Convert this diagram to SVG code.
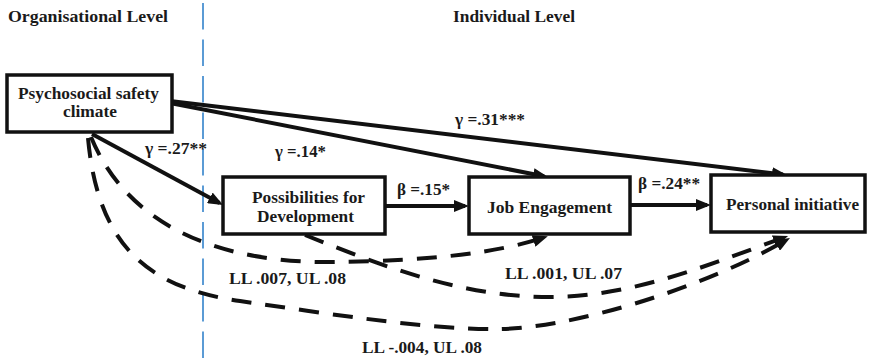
<svg xmlns="http://www.w3.org/2000/svg" width="870" height="358" viewBox="0 0 870 358">
  <defs>
    <style>
      text { font-family: 'Liberation Serif', 'Times New Roman', 'DejaVu Serif', serif; font-weight: 700; fill: #1a1a1a; }
      .node { font-size: 17px; }
      .lbl { font-size: 16px; }
      .hdr { font-size: 17px; }
      .box { fill: #fff; stroke: #111; stroke-width: 3.5; }
      .solid { fill: none; stroke: #111; stroke-width: 4; marker-end: url(#head); }
      .dash { fill: none; stroke: #111; stroke-width: 4; stroke-dasharray: 20 14; marker-end: url(#head); }
      .divider { stroke: #5b9bd5; stroke-width: 2; stroke-dasharray: 26.5 10; }
    </style>
    <marker id="head" markerUnits="userSpaceOnUse" viewBox="0 0 16 12" markerWidth="16" markerHeight="12" refX="11" refY="6" orient="auto">
      <path d="M0,0 L15,6 L0,12 z" fill="#111"/>
    </marker>
  </defs>

  <rect width="870" height="358" fill="#fff"/>

  <!-- level divider and headings -->
  <line class="divider" x1="203" y1="3" x2="203" y2="358"/>
  <text class="hdr" x="8" y="22" textLength="160" lengthAdjust="spacingAndGlyphs">Organisational Level</text>
  <text class="hdr" x="453" y="22" textLength="122" lengthAdjust="spacingAndGlyphs">Individual Level</text>

  <!-- paths between constructs -->
  <g id="connectors">
    <line class="solid" x1="92" y1="134" x2="219.5" y2="203.1"/>
    <line class="solid" x1="170" y1="103" x2="544.1" y2="176.2"/>
    <line class="solid" x1="170" y1="101" x2="783" y2="174.5"/>
    <line class="solid" x1="385" y1="206" x2="465" y2="206"/>
    <line class="solid" x1="630" y1="205" x2="707" y2="205"/>

    <path class="dash" d="M91,137 C130,232 230,263 330,262 C430,261 497,253 544,237.5"/>
    <path class="dash" d="M305,235 C380,265 460,297 550,297 C635,297 715,262 784.3,237.4"/>
    <path class="dash" d="M88,138 C98,248 150,288 240,301 C330,314 430,330 500,329 C570,328 700,290 786.5,240"/>

    <text class="lbl" x="145" y="154" textLength="62" lengthAdjust="spacingAndGlyphs">γ =.27**</text>
    <text class="lbl" x="275" y="157" textLength="51" lengthAdjust="spacingAndGlyphs">γ =.14*</text>
    <text class="lbl" x="455" y="125" textLength="70" lengthAdjust="spacingAndGlyphs">γ =.31***</text>
    <text class="lbl" x="397" y="195" textLength="53" lengthAdjust="spacingAndGlyphs">β =.15*</text>
    <text class="lbl" x="638" y="189" textLength="62" lengthAdjust="spacingAndGlyphs">β =.24**</text>
    <text class="lbl" x="229" y="284" textLength="117" lengthAdjust="spacingAndGlyphs">LL .007, UL .08</text>
    <text class="lbl" x="505" y="279" textLength="117" lengthAdjust="spacingAndGlyphs">LL .001, UL .07</text>
    <text class="lbl" x="362" y="353" textLength="120" lengthAdjust="spacingAndGlyphs">LL -.004, UL .08</text>
  </g>

  <g id="psc">
    <rect class="box" x="7" y="75" width="165" height="57"/>
    <text class="node" x="18" y="99" textLength="141" lengthAdjust="spacingAndGlyphs">Psychosocial safety</text>
    <text class="node" x="63" y="117" textLength="54" lengthAdjust="spacingAndGlyphs">climate</text>
  </g>

  <g id="possibilities">
    <rect class="box" x="223" y="177" width="162" height="57"/>
    <text class="node" x="252" y="203" textLength="113" lengthAdjust="spacingAndGlyphs">Possibilities for</text>
    <text class="node" x="257" y="222" textLength="97" lengthAdjust="spacingAndGlyphs">Development</text>
  </g>

  <g id="engagement">
    <rect class="box" x="469" y="177" width="161" height="57"/>
    <text class="node" x="487" y="213" textLength="125" lengthAdjust="spacingAndGlyphs">Job Engagement</text>
  </g>

  <g id="initiative">
    <rect class="box" x="711" y="175" width="154" height="57"/>
    <text class="node" x="726" y="210" textLength="133" lengthAdjust="spacingAndGlyphs">Personal initiative</text>
  </g>
</svg>
